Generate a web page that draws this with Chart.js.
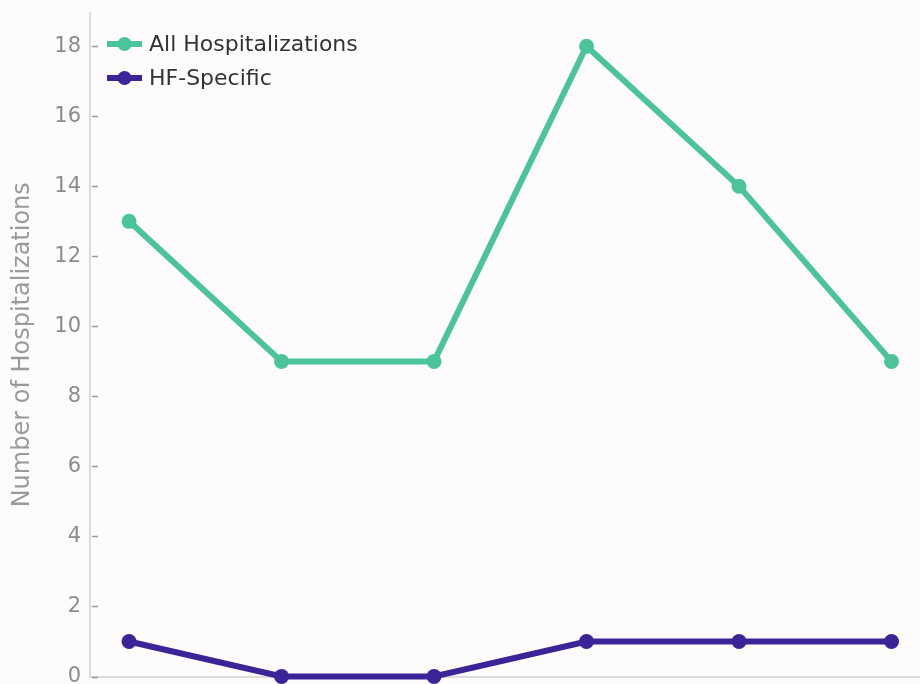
<!DOCTYPE html>
<html>
<head>
<meta charset="utf-8">
<script src="https://cdn.jsdelivr.net/npm/chart.js@4"></script>
<style>
  html, body { margin: 0; padding: 0; background: #fdfcfb; overflow: hidden; }
  #wrap { width: 928px; height: 684px; position: relative; }
</style>
</head>
<body>
<div id="wrap"><canvas id="chart"></canvas></div>
<script>
// data
const visits = [0, 1, 2, 3, 4, 5];
const allHosp = [13, 9, 9, 18, 14, 9];
const hfSpecific = [1, 0, 0, 1, 1, 1];
const yTicks = [0, 2, 4, 6, 8, 10, 12, 14, 16, 18];

const green = '#4bc49a';
const purple = '#3b2497';

// small inward tick marks on the y axis (matplotlib look)
const tickMarks = {
    id: 'tickMarks',
    afterDraw(chart) {
        const ctx = chart.ctx;
        const y = chart.scales.y;
        ctx.save();
        ctx.strokeStyle = '#9a9a9a';
        ctx.lineWidth = 1.5;
        yTicks.forEach(v => {
            const py = Math.round(y.getPixelForValue(v)) + 0.5;
            ctx.beginPath();
            ctx.moveTo(y.right + 2, py);
            ctx.lineTo(y.right + 8, py);
            ctx.stroke();
        });
        ctx.restore();
    }
};

// legend drawn inside the plot, top-left
const innerLegend = {
    id: 'innerLegend',
    afterDraw(chart) {
        const ctx = chart.ctx;
        const area = chart.chartArea;
        ctx.save();
        chart.data.datasets.forEach((ds, i) => {
            const x0 = area.left + 17;
            const yy = area.top + 31 + i * 34;
            ctx.strokeStyle = ds.borderColor;
            ctx.lineWidth = 6;
            ctx.beginPath();
            ctx.moveTo(x0, yy);
            ctx.lineTo(x0 + 35, yy);
            ctx.stroke();
            ctx.fillStyle = ds.borderColor;
            ctx.beginPath();
            ctx.arc(x0 + 17.5, yy, 7, 0, Math.PI * 2);
            ctx.fill();
            ctx.fillStyle = '#333';
            ctx.font = '22px "DejaVu Sans"';
            ctx.textBaseline = 'middle';
            ctx.fillText(ds.label, x0 + 42, yy + 1);
        });
        ctx.restore();
    }
};

new Chart(document.getElementById('chart'), {
    type: 'line',
    data: {
        datasets: [{
            label: 'All Hospitalizations',
            data: visits.map((v, i) => ({ x: v, y: allHosp[i] })),
            borderColor: green,
            backgroundColor: green,
            borderWidth: 6,
            pointRadius: 7.5,
            pointBorderWidth: 0,
            pointHoverRadius: 7.5,
            clip: false
        }, {
            label: 'HF-Specific',
            data: visits.map((v, i) => ({ x: v, y: hfSpecific[i] })),
            borderColor: purple,
            backgroundColor: purple,
            borderWidth: 6,
            pointRadius: 7.5,
            pointBorderWidth: 0,
            pointHoverRadius: 7.5,
            clip: false
        }]
    },
    options: {
        responsive: true,
        maintainAspectRatio: false,
        animation: false,
        layout: { padding: { top: 13, right: 0, bottom: 7, left: 0 } },
        plugins: {
            legend: { display: false },
            tooltip: { enabled: false }
        },
        scales: {
            x: {
                type: 'linear',
                min: -0.256,
                max: 5.19,
                grid: { display: false, drawTicks: false },
                border: { display: true, color: '#dcdcdc', width: 2 },
                ticks: { display: false },
                afterFit: s => { s.height = 0; s.paddingLeft = 0; s.paddingRight = 0; }
            },
            y: {
                min: 0,
                max: 18.95,
                afterBuildTicks: s => { s.ticks = yTicks.map(v => ({ value: v })); },
                grid: { display: false, drawTicks: false },
                border: { display: true, color: '#dcdcdc', width: 2 },
                ticks: {
                    color: '#8c8c8c',
                    padding: 9,
                    font: { family: 'DejaVu Sans', size: 21 }
                },
                title: {
                    display: true,
                    text: 'Number of Hospitalizations',
                    color: '#9a9a9a',
                    font: { family: 'DejaVu Sans', size: 24 },
                    padding: { top: 8, bottom: 0 }
                },
                afterFit: s => { s.width = 90; s.paddingTop = 0; s.paddingBottom = 0; }
            }
        }
    },
    plugins: [tickMarks, innerLegend]
});
</script>
</body>
</html>
